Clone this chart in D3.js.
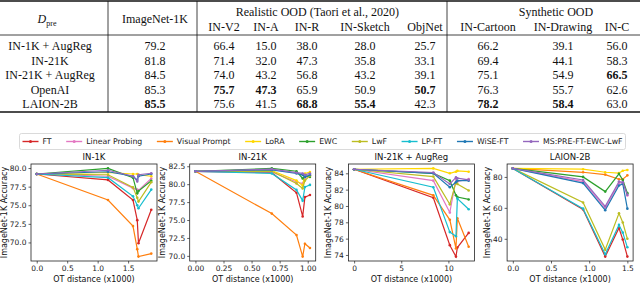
<!DOCTYPE html>
<html>
<head>
<meta charset="utf-8">
<script src="https://cdn.jsdelivr.net/npm/d3@7/dist/d3.min.js"></script>
<style>
  body { margin: 0; background: #fff; }
  svg { display: block; }
</style>
</head>
<body>
<div id="chart"></div>
<script>
// ---- table data ----
const tableRows = ["IN-1K + AugReg", "IN-21K", "IN-21K + AugReg", "OpenAI", "LAION-2B"];
const tableCols = ["ImageNet-1K", "IN-V2", "IN-A", "IN-R", "IN-Sketch", "ObjNet", "IN-Cartoon", "IN-Drawing", "IN-C"];
const tableValues = [
  [79.2, 66.4, 15.0, 38.0, 28.0, 25.7, 66.2, 39.1, 56.0],
  [81.8, 71.4, 32.0, 47.3, 35.8, 33.1, 69.4, 44.1, 58.3],
  [84.5, 74.0, 43.2, 56.8, 43.2, 39.1, 75.1, 54.9, 66.5],
  [85.3, 75.7, 47.3, 65.9, 50.9, 50.7, 76.3, 55.7, 62.6],
  [85.5, 75.6, 41.5, 68.8, 55.4, 42.3, 78.2, 58.4, 63.0]
];
const groupHeaders = ["Realistic OOD (Taori et al., 2020)", "Synthetic OOD"];

// ---- line chart data ----
const methods = ["FT", "Linear Probing", "Visual Prompt", "LoRA", "EWC", "LwF", "LP-FT", "WiSE-FT", "MS:PRE-FT-EWC-LwF"];
const methodColors = ["#d62728", "#e377c2", "#ff7f0e", "#ffd700", "#2ca02c", "#bcbd22", "#17becf", "#1f77b4", "#9467bd"];
const panelTitles = ["IN-1K", "IN-21K", "IN-21K + AugReg", "LAION-2B"];

const otIN1K = [0, 1.17, 1.58, 1.65, 1.67, 1.88];
const accIN1K = [
  [79.2, 78.4, 75.7, 73.0, 69.9, 74.4],
  [79.2, 78.9, 77.3, 77.1, 77.0, 78.6],
  [79.2, 75.7, 72.2, 69.1, 68.1, 68.5],
  [79.2, 79.4, 79.2, 79.2, 79.1, 78.9],
  [79.2, 79.95, 78.7, 76.6, 76.9, 78.3],
  [79.2, 79.1, 77.4, 76.0, 75.5, 78.1],
  [79.2, 78.7, 76.2, 75.0, 74.6, 77.1],
  [79.2, 79.5, 78.9, 78.4, 78.9, 79.2],
  [79.2, 79.7, 78.9, 78.2, 79.1, 79.3]
];

const otIN21K = [0, 0.68, 0.90, 0.955, 0.975, 1.02];
const accIN21K = [
  [81.8, 81.6, 78.8, 75.5, 78.2, 78.5],
  [81.8, 81.7, 80.3, 80.1, 80.9, 81.2],
  [81.8, 75.9, 72.9, 69.9, 71.7, 71.1],
  [81.8, 81.9, 80.5, 79.8, 81.5, 81.7],
  [81.8, 82.2, 81.8, 80.8, 81.2, 81.0],
  [81.8, 81.8, 80.1, 79.4, 80.5, 81.2],
  [81.8, 81.5, 79.2, 77.7, 79.6, 79.9],
  [81.8, 82.0, 81.5, 81.3, 81.0, 81.3],
  [81.8, 82.1, 81.6, 81.5, 81.3, 81.5]
];

const otIN21KAug = [0, 8.4, 10.15, 10.8, 10.95, 12.15];
const accIN21KAug = [
  [84.5, 81.0, 75.2, 73.8, 74.9, 76.7],
  [84.5, 83.1, 79.2, 83.3, 83.0, 83.3],
  [84.5, 81.3, 78.3, 74.8, 78.5, 75.0],
  [84.5, 84.6, 84.0, 84.2, 84.3, 84.2],
  [84.5, 84.0, 83.1, 81.3, 81.1, 80.8],
  [84.5, 83.6, 80.2, 82.9, 82.7, 81.9],
  [84.5, 82.3, 76.8, 76.3, 80.9, 79.6],
  [84.5, 84.0, 82.3, 82.9, 83.1, 83.1],
  [84.5, 84.1, 82.7, 83.5, 83.4, 83.2]
];

const otLAION = [0, 0.92, 1.21, 1.39, 1.44, 1.50];
const accLAION = [
  [85.5, 59.0, 28.5, 47.0, 39.5, 28.5],
  [85.5, 77.0, 60.0, 76.0, 76.5, 68.0],
  [85.5, 83.0, 81.5, 78.5, 78.5, 81.0],
  [85.5, 85.0, 83.0, 82.5, 84.0, 84.5],
  [85.5, 80.0, 70.5, 82.0, 78.0, 69.5],
  [85.5, 63.5, 33.0, 56.5, 50.5, 40.0],
  [85.5, 59.5, 30.0, 49.0, 44.0, 34.5],
  [85.5, 76.0, 58.5, 74.5, 75.5, 59.5],
  [85.5, 78.0, 61.0, 77.0, 76.5, 68.5]
];

const xTicks = [[0, 0.5, 1.0, 1.5], [0, 0.25, 0.5, 0.75, 1.0], [0, 5, 10], [0, 0.5, 1.0, 1.5]];
const xTickFormats = [".1f", ".2f", "d", ".1f"];
const yTicks = [[70, 72.5, 75, 77.5, 80], [70, 72.5, 75, 77.5, 80, 82.5], [74, 76, 78, 80, 82, 84], [40, 60, 80]];
const yTickFormats = [".1f", ".1f", "d", "d"];

const panels = [
  { x: otIN1K, y: accIN1K },
  { x: otIN21K, y: accIN21K },
  { x: otIN21KAug, y: accIN21KAug },
  { x: otLAION, y: accLAION }
];

const width = 640, height = 284;
const svg = d3.select("#chart").append("svg")
  .attr("width", width).attr("height", height);

// ================= table =================
const serif = "'Liberation Serif', 'Times New Roman', serif";
const table = svg.append("g").attr("font-family", serif).attr("font-size", 12).attr("fill", "#111");

const colX = [155, 224, 266, 307, 365, 425, 488, 563, 617];
const rowY = d3.scalePoint().domain(d3.range(tableRows.length)).range([46, 104]);
const tableTop = 1, tableBottom = 112, headRule = 35;

table.append("line").attr("x1", 0).attr("x2", width).attr("y1", tableTop).attr("y2", tableTop)
  .attr("stroke", "#111").attr("stroke-width", 1.6);
table.append("line").attr("x1", 0).attr("x2", width).attr("y1", headRule).attr("y2", headRule)
  .attr("stroke", "#111").attr("stroke-width", 0.8);
table.append("line").attr("x1", 0).attr("x2", width).attr("y1", tableBottom).attr("y2", tableBottom)
  .attr("stroke", "#111").attr("stroke-width", 1.6);

[108, 197, 447].forEach(x => {
  table.append("line").attr("x1", x).attr("x2", x).attr("y1", tableTop).attr("y2", tableBottom)
    .attr("stroke", "#111").attr("stroke-width", 0.8);
});

// header
const dpre = table.append("text").attr("x", 47).attr("y", 19).attr("dy", "0.35em").attr("text-anchor", "middle");
dpre.append("tspan").attr("font-style", "italic").text("D");
dpre.append("tspan").attr("font-size", 8).attr("dy", 3).text("pre");

table.append("text").attr("x", colX[0]).attr("y", 19).attr("dy", "0.35em")
  .attr("text-anchor", "middle").text(tableCols[0]);
table.append("text").attr("x", d3.mean(colX.slice(1, 6))).attr("y", 12).attr("dy", "0.35em")
  .attr("text-anchor", "middle").text(groupHeaders[0]);
table.append("text").attr("x", d3.mean(colX.slice(6, 9))).attr("y", 12).attr("dy", "0.35em")
  .attr("text-anchor", "middle").text(groupHeaders[1]);
tableCols.slice(1).forEach((c, i) => {
  table.append("text").attr("x", colX[i + 1]).attr("y", 27).attr("dy", "0.35em")
    .attr("text-anchor", "middle").text(c);
});

const colMax = tableCols.map((c, j) => d3.max(tableValues, r => r[j]));
tableRows.forEach((r, i) => {
  table.append("text").attr("x", 50).attr("y", rowY(i)).attr("dy", "0.35em")
    .attr("text-anchor", "middle").text(r);
  tableValues[i].forEach((v, j) => {
    table.append("text").attr("x", colX[j]).attr("y", rowY(i)).attr("dy", "0.35em")
      .attr("text-anchor", "middle")
      .attr("font-weight", v === colMax[j] ? "bold" : null)
      .text(v.toFixed(1));
  });
});

// ================= legend =================
const sans = "'DejaVu Sans', sans-serif";
const legend = svg.append("g").attr("font-family", sans).attr("font-size", 7.8);
const lgBox = { x: 19.5, y: 133.5, w: 606, h: 16 };
legend.append("rect").attr("x", lgBox.x).attr("y", lgBox.y).attr("width", lgBox.w).attr("height", lgBox.h)
  .attr("rx", 2).attr("fill", "#fff").attr("stroke", "#d0d0d0").attr("stroke-width", 0.8);

const items = legend.selectAll("g.item").data(methods).enter().append("g").attr("class", "item");
items.append("text").attr("fill", "#222").attr("dy", "0.35em").text(d => d);
const textW = [];
items.select("text").each(function () { textW.push(this.getComputedTextLength()); });
const handle = 16, hgap = 4, pad = 3;
const spacing = (lgBox.w - 2 * pad - d3.sum(textW) - methods.length * (handle + hgap)) / (methods.length - 1);
let cx = lgBox.x + pad;
const ly = lgBox.y + lgBox.h / 2;
items.each(function (d, i) {
  const g = d3.select(this).attr("transform", `translate(${cx},${ly})`);
  g.append("line").attr("x1", 0).attr("x2", handle).attr("stroke", methodColors[i]).attr("stroke-width", 1.4);
  g.append("circle").attr("cx", handle / 2).attr("r", 1.5).attr("fill", methodColors[i]);
  g.select("text").attr("x", handle + hgap);
  cx += handle + hgap + textW[i] + spacing;
});

// ================= line panels =================
const plotTop = 164, plotBottom = 261, plotW = 126;
const panelLeft = i => 31 + i * 158.7;

panels.forEach((p, pi) => {
  const left = panelLeft(pi);
  const g = svg.append("g").attr("font-family", sans);

  const allY = p.y.flat();
  const xExt = d3.extent(p.x), yExt = d3.extent(allY);
  const xm = (xExt[1] - xExt[0]) * 0.05, ym = (yExt[1] - yExt[0]) * 0.05;
  const x = d3.scaleLinear().domain([xExt[0] - xm, xExt[1] + xm]).range([left, left + plotW]);
  const y = d3.scaleLinear().domain([yExt[0] - ym, yExt[1] + ym]).range([plotBottom, plotTop]);

  const xAxis = g.append("g").attr("transform", `translate(0,${plotBottom})`)
    .call(d3.axisBottom(x).tickValues(xTicks[pi]).tickFormat(d3.format(xTickFormats[pi])).tickSize(2.5).tickPadding(2));
  const yAxis = g.append("g").attr("transform", `translate(${left},0)`)
    .call(d3.axisLeft(y).tickValues(yTicks[pi]).tickFormat(d3.format(yTickFormats[pi])).tickSize(2.5).tickPadding(2));
  [xAxis, yAxis].forEach(a => {
    a.select(".domain").remove();
    a.selectAll(".tick line").attr("stroke", "#222").attr("stroke-width", 0.7);
    a.selectAll(".tick text").attr("font-size", 7.5).attr("fill", "#222").attr("font-family", sans);
  });

  let maxW = 0;
  yAxis.selectAll(".tick text").each(function () { maxW = Math.max(maxW, this.getComputedTextLength()); });

  const line = d3.line().x((d, i) => x(p.x[i])).y(d => y(d));
  p.y.forEach((series, si) => {
    g.append("path").datum(series).attr("d", line)
      .attr("fill", "none").attr("stroke", methodColors[si]).attr("stroke-width", 1.2);
    g.selectAll(null).data(series).enter().append("circle")
      .attr("cx", (d, i) => x(p.x[i])).attr("cy", d => y(d)).attr("r", 1.3)
      .attr("fill", methodColors[si]);
  });

  g.append("rect").attr("x", left).attr("y", plotTop).attr("width", plotW).attr("height", plotBottom - plotTop)
    .attr("fill", "none").attr("stroke", "#222").attr("stroke-width", 0.8);

  g.append("text").attr("x", left + plotW / 2).attr("y", plotTop - 4).attr("text-anchor", "middle")
    .attr("font-size", 8.5).attr("fill", "#111").text(panelTitles[pi]);

  g.append("text").attr("x", left + plotW / 2).attr("y", 282).attr("text-anchor", "middle")
    .attr("font-size", 8).attr("fill", "#111").text("OT distance (x1000)");

  const lx = left - 2.5 - 2 - maxW - 3;
  g.append("text").attr("transform", `translate(${lx},${(plotTop + plotBottom) / 2}) rotate(-90)`)
    .attr("text-anchor", "middle").attr("font-size", 8).attr("fill", "#111").text("ImageNet-1K Accuracy");
});
</script>
</body>
</html>
